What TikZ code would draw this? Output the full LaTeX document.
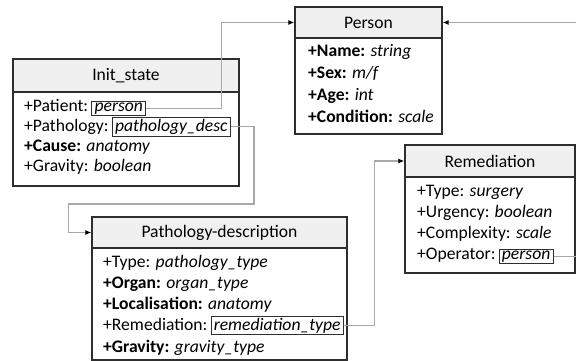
\documentclass[tikz,border=0pt]{standalone}
\usepackage{fontspec}
\setmainfont{Carlito}
\usetikzlibrary{arrows.meta}
\definecolor{hdr}{HTML}{F0F0F0}
\definecolor{frame}{HTML}{2E2E2E}
\definecolor{conn}{HTML}{A8A8A8}
\begin{document}
\begin{tikzpicture}[x=1pt,y=-1pt,
  every node/.style={font=\fontsize{17.6}{20}\selectfont},
  hdrbox/.style={draw=frame,fill=hdr,line width=1.3pt,inner sep=0pt},
  bodybox/.style={draw=frame,fill=white,line width=1.3pt,inner sep=0pt},
  row/.style={anchor=mid west,inner sep=0pt},
  tbox/.style={draw=frame,line width=0.8pt,anchor=base west,inner xsep=2.8pt,inner ysep=1.5pt,font=\fontsize{17.6}{20}\selectfont\itshape},
  link/.style={draw=conn,line width=1.4pt,-{Latex[length=6pt,width=5pt,color=black]}},
  plain/.style={draw=conn,line width=1.4pt}]
\useasboundingbox (0,0) rectangle (576,361);
\coordinate (edgeR) at (576,0);

% Person
\node[bodybox,minimum width=147pt,minimum height=96pt] (personb) at (368.5,86) {};
\node[hdrbox,minimum width=147pt,minimum height=31pt] (personh) at (368.5,22.5) {Person};
\node[row] (p1) at (308,54) {\textbf{+Name:} \textit{string}};
\node[row] (p2) at (308,76) {\textbf{+Sex:} \textit{m/f}};
\node[row] (p3) at (308,98) {\textbf{+Age:} \textit{int}};
\node[row] (p4) at (308,120) {\textbf{+Condition:} \textit{scale}};

% Init_state
\node[bodybox,minimum width=226pt,minimum height=94pt] (initb) at (126,139) {};
\node[hdrbox,minimum width=226pt,minimum height=33pt] (inith) at (126,75.5) {Init\_state};
\node[row] (i1) at (24,109) {+Patient:};
\node[tbox] (patbox) at ([xshift=3pt]i1.base east) {person};
\node[row] (i2) at (24,129) {+Pathology:};
\node[tbox] (descbox) at ([xshift=3pt]i2.base east) {pathology\_desc};
\node[row] (i3) at (24,149) {\textbf{+Cause:} \textit{anatomy}};
\node[row] (i4) at (24,169) {+Gravity: \textit{boolean}};

% Remediation
\node[bodybox,minimum width=170pt,minimum height=96pt] (remb) at (490,225) {};
\node[hdrbox,minimum width=170pt,minimum height=32pt] (remh) at (490,161) {Remediation};
\node[row] (r1) at (417,194) {+Type: \textit{surgery}};
\node[row] (r2) at (417,215) {+Urgency: \textit{boolean}};
\node[row] (r3) at (417,236) {+Complexity: \textit{scale}};
\node[row] (r4) at (417,257) {+Operator:};
\node[tbox] (opbox) at ([xshift=3pt]r4.base east) {person};

% Pathology-description
\node[bodybox,minimum width=255pt,minimum height=112pt] (pathb) at (219.5,304) {};
\node[hdrbox,minimum width=255pt,minimum height=31pt] (pathh) at (219.5,232.5) {Pathology-description};
\node[row] (d1) at (103,265) {+Type: \textit{pathology\_type}};
\node[row] (d2) at (103,286) {\textbf{+Organ:} \textit{organ\_type}};
\node[row] (d3) at (103,307) {\textbf{+Localisation:} \textit{anatomy}};
\node[row] (d4) at (103,328) {+Remediation:};
\node[tbox] (remtbox) at ([xshift=3pt]d4.base east) {remediation\_type};
\node[row] (d5) at (103,350) {\textbf{+Gravity:} \textit{gravity\_type}};

% connectors
\draw[link] (patbox.east) -| ([xshift=-73pt]personh.west) -- (personh.west);
\draw[link] (edgeR |- personh.east) -- (personh.east);
\draw[link] (descbox.east) -| (254,204) -| ([xshift=-23pt]pathh.west) -- (pathh.west);
\draw[link] (remtbox.east) -| ([xshift=-30pt]remh.west) -- (remh.west);
\draw[plain] (opbox.east) -- (opbox.east -| edgeR);
\end{tikzpicture}
\end{document}
